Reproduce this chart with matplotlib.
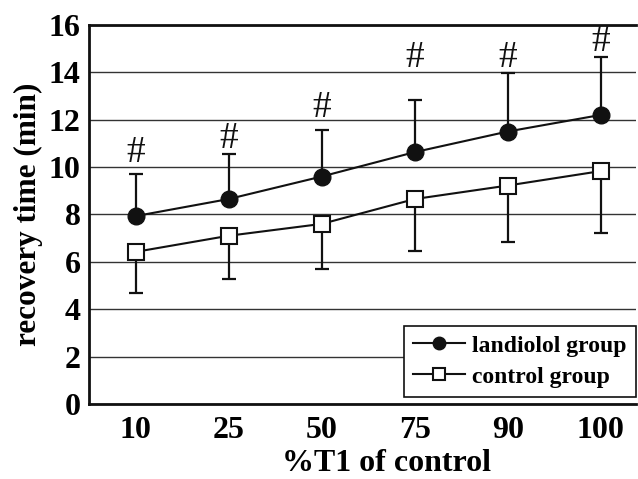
import numpy as np
import matplotlib.pyplot as plt

## data
categories = ['10', '25', '50', '75', '90', '100']
landiolol = [7.93, 8.65, 9.6, 10.63, 11.5, 12.2]
landiolol_sd = [1.77, 1.9, 1.98, 2.2, 2.45, 2.44]
control = [6.42, 7.1, 7.6, 8.65, 9.22, 9.83]
control_sd = [1.74, 1.83, 1.9, 2.2, 2.4, 2.63]
hash_y = [10.6, 11.2, 12.5, 14.6, 14.6, 15.3]

plt.rcParams['font.family'] = ['Liberation Serif', 'DejaVu Serif']

fig = plt.figure(figsize=(6.38, 4.79), dpi=100)
ax = fig.add_axes([0.1395, 0.1566, 0.8575, 0.7914])
ind = np.arange(len(categories))

ax.yaxis.grid(True, color='#333333', linewidth=1.0)
ax.set_axisbelow(True)

# error bars (one-sided)
ax.errorbar(ind, landiolol, yerr=[np.zeros(6), landiolol_sd], fmt='none',
            ecolor='#111111', elinewidth=1.6, capsize=5, capthick=1.6, zorder=2)
ax.errorbar(ind, control, yerr=[control_sd, np.zeros(6)], fmt='none',
            ecolor='#111111', elinewidth=1.6, capsize=5, capthick=1.6, zorder=2)

ax.plot(ind, landiolol, '-o', color='#111111', linewidth=1.5, markersize=12,
        markerfacecolor='#111111', label='landiolol group', zorder=3)
ax.plot(ind, control, '-s', color='#111111', linewidth=1.5, markersize=11,
        markerfacecolor='white', markeredgewidth=1.5, label='control group', zorder=3)

for i, h in enumerate(hash_y):
    ax.text(i, h, '#', ha='center', va='center', fontsize=27, color='#111111')

ax.set_xlim(-0.5, 5.38)
ax.set_ylim(0, 16)
ax.set_yticks(np.arange(0, 17, 2))
ax.set_xticks(ind)
ax.set_xticklabels(categories)
ax.tick_params(length=0, labelsize=23)
ax.tick_params(axis='x', pad=9)
ax.tick_params(axis='y', pad=6)
for lbl in ax.get_xticklabels() + ax.get_yticklabels():
    lbl.set_fontweight('bold')

for s in ['left', 'bottom', 'top']:
    ax.spines[s].set_linewidth(2.0)
    ax.spines[s].set_color('#111111')
ax.spines['right'].set_visible(False)

ax.set_ylabel('recovery time (min)', fontsize=22.5, fontweight='bold', labelpad=4)
ax.set_xlabel('%T1 of control', fontsize=23, fontweight='bold')
ax.xaxis.set_label_coords(0.543, -0.118)

leg = ax.legend(loc='lower right', bbox_to_anchor=(1.0, 0.018),
                prop={'weight': 'bold', 'size': 17}, frameon=True, fancybox=False,
                edgecolor='#111111', handlelength=2.2, borderpad=0.4, labelspacing=0.4,
                handletextpad=0.3, markerscale=0.75, borderaxespad=0)
leg.get_frame().set_linewidth(1.2)
leg.get_frame().set_alpha(1)

fig.savefig('out.png', dpi=100)
